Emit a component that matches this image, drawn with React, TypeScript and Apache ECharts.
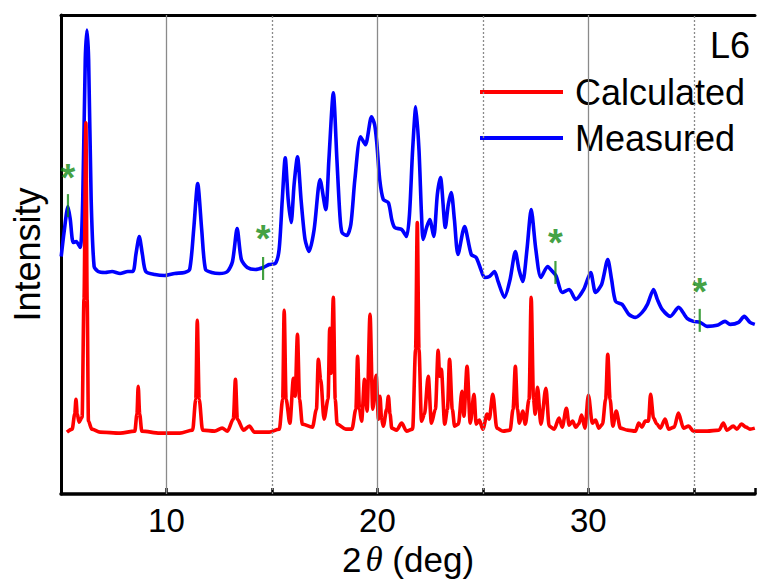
import React, { useEffect, useRef } from "react";
import * as echarts from "echarts";

// Measured pattern (2θ in deg, intensity in arbitrary units)
const measured: [number, number][] = [
  [5.01, 238], [5.15, 263], [5.33, 288], [5.44, 275], [5.58, 252], [5.72, 253], [5.91, 247],
  [6.03, 295], [6.15, 435], [6.23, 465], [6.31, 435], [6.43, 295], [6.57, 228], [6.76, 223],
  [7.09, 222], [7.42, 223], [7.8, 221], [8.17, 223], [8.41, 223], [8.55, 240], [8.71, 258],
  [8.86, 240], [9.02, 223], [9.45, 220], [9.92, 219], [10.39, 221], [10.86, 222], [11.1, 225],
  [11.29, 265], [11.48, 311], [11.67, 265], [11.85, 225], [12.14, 222], [12.51, 221], [12.89, 223],
  [13.13, 233], [13.35, 266], [13.55, 235], [13.83, 227], [14.21, 225], [14.59, 227], [14.87, 230],
  [15.16, 231], [15.34, 245], [15.49, 295], [15.63, 337], [15.77, 295], [15.91, 272], [16.05, 310],
  [16.21, 338], [16.38, 295], [16.57, 255], [16.76, 243], [17.0, 265], [17.28, 315], [17.55, 285],
  [17.7, 335], [17.91, 402], [18.08, 335], [18.22, 280], [18.32, 262], [18.55, 259], [18.74, 270],
  [18.93, 315], [19.2, 358], [19.43, 350], [19.72, 378], [19.87, 370], [19.97, 352], [20.11, 315],
  [20.28, 295], [20.52, 292], [20.68, 275], [20.82, 267], [21.15, 265], [21.38, 258], [21.52, 280],
  [21.67, 345], [21.82, 388], [21.97, 345], [22.09, 280], [22.17, 255], [22.33, 267], [22.48, 275],
  [22.67, 258], [22.84, 300], [22.99, 317], [23.22, 267], [23.36, 290], [23.5, 302], [23.65, 275],
  [23.82, 240], [24.13, 268], [24.45, 240], [24.68, 237], [24.87, 227], [25.08, 217], [25.31, 218],
  [25.55, 223], [25.72, 213], [26.02, 197], [26.29, 215], [26.54, 243], [26.71, 225], [26.89, 213],
  [27.09, 245], [27.29, 285], [27.51, 245], [27.75, 217], [28.07, 228], [28.3, 223], [28.46, 219],
  [28.77, 202], [29.09, 205], [29.4, 195], [29.78, 205], [30.11, 222], [30.34, 202], [30.63, 210],
  [30.92, 235], [31.1, 215], [31.29, 193], [31.6, 190], [31.92, 180], [32.23, 177], [32.55, 182],
  [32.8, 190], [33.09, 205], [33.27, 195], [33.5, 185], [33.88, 178], [34.28, 187], [34.68, 176],
  [34.98, 173], [35.3, 172], [35.63, 168], [36.1, 169], [36.48, 173], [36.72, 170], [37.12, 172],
  [37.39, 178], [37.66, 172], [37.89, 170],
];

// Calculated pattern (2θ in deg, intensity in arbitrary units)
const calculated: [number, number][] = [
  [5.28, 62], [5.53, 65], [5.65, 80], [5.71, 95], [5.77, 80], [5.86, 72], [6.0, 77], [6.09, 195],
  [6.18, 372], [6.24, 195], [6.3, 73], [6.46, 65], [6.85, 62], [7.8, 61], [8.5, 63], [8.6, 80],
  [8.66, 108], [8.73, 80], [8.83, 63], [9.68, 61], [10.63, 61], [11.24, 64], [11.39, 95],
  [11.46, 174], [11.55, 95], [11.71, 64], [12.28, 63], [12.64, 66], [12.89, 63], [13.17, 75],
  [13.27, 115], [13.36, 75], [13.65, 64], [13.93, 68], [14.17, 62], [14.87, 62], [15.35, 65],
  [15.51, 95], [15.58, 184], [15.67, 95], [15.85, 71], [16.02, 116], [16.1, 98], [16.21, 160],
  [16.31, 95], [16.44, 70], [16.92, 67], [17.11, 85], [17.2, 135], [17.31, 115], [17.47, 75],
  [17.66, 95], [17.74, 166], [17.81, 121], [17.91, 197], [18.0, 95], [18.09, 70], [18.5, 65],
  [18.79, 65], [18.98, 85], [19.06, 138], [19.15, 85], [19.25, 73], [19.39, 115], [19.51, 83],
  [19.65, 180], [19.78, 85], [19.94, 119], [20.05, 75], [20.12, 98], [20.2, 75], [20.28, 68],
  [20.44, 85], [20.52, 98], [20.6, 80], [20.68, 66], [20.91, 64], [21.15, 71], [21.38, 63],
  [21.67, 65], [21.81, 145], [21.89, 272], [21.97, 145], [22.09, 73], [22.23, 80], [22.41, 118],
  [22.56, 71], [22.75, 85], [22.88, 144], [22.95, 118], [23.03, 125], [23.19, 70], [23.32, 85],
  [23.42, 135], [23.55, 85], [23.66, 68], [23.84, 70], [24.01, 103], [24.1, 78], [24.25, 128],
  [24.4, 71], [24.58, 100], [24.68, 70], [24.83, 74], [25.0, 65], [25.2, 80], [25.3, 75],
  [25.47, 100], [25.66, 66], [25.96, 63], [26.29, 64], [26.43, 85], [26.54, 128], [26.64, 85],
  [26.73, 71], [26.89, 83], [27.01, 70], [27.19, 95], [27.29, 197], [27.4, 95], [27.48, 80],
  [27.59, 107], [27.75, 70], [27.99, 106], [28.14, 68], [28.38, 65], [28.61, 76], [28.76, 67],
  [28.96, 86], [29.09, 69], [29.25, 73], [29.4, 67], [29.54, 70], [29.68, 79], [29.84, 66],
  [30.0, 99], [30.19, 71], [30.34, 74], [30.5, 66], [30.67, 70], [30.82, 95], [30.92, 140],
  [31.03, 95], [31.16, 68], [31.32, 83], [31.52, 66], [31.85, 64], [32.23, 63], [32.39, 71],
  [32.54, 67], [32.7, 73], [32.85, 73], [32.95, 100], [33.09, 76], [33.25, 70], [33.41, 66],
  [33.64, 75], [33.8, 65], [34.07, 67], [34.27, 81], [34.51, 66], [34.75, 68], [34.98, 63],
  [35.63, 63], [36.19, 64], [36.4, 71], [36.57, 64], [36.87, 68], [37.04, 65], [37.26, 70],
  [37.47, 67], [37.66, 65], [37.89, 66],
];

// Impurity markers (asterisks with short ticks)
const markerTheta = [5.33, 14.58, 28.44, 35.28];
const starLevel = [327, 266, 262, 212];
const tickLevel = [289, 226, 222, 174];

// Axis settings
const xMin = 5;
const xMax = 37.9;
const xStep = 5;
const majorLines = [10, 20, 30];
const minorLines = [15, 25, 35];
const yMax = 480;

const FONT = "'Liberation Sans', Arial, Helvetica, sans-serif";

export default function App() {
  const ref = useRef<HTMLDivElement>(null);

  useEffect(() => {
    if (!ref.current) return;
    const chart = echarts.init(ref.current, undefined, { renderer: "svg" });

    const gridLines = [
      ...majorLines.map((v) => ({
        xAxis: v,
        lineStyle: { color: "#8a8a8a", width: 1.3, type: "solid" as const },
      })),
      ...minorLines.map((v) => ({
        xAxis: v,
        lineStyle: { color: "#8a8a8a", width: 1.3, type: [2, 2] as any },
      })),
    ];

    chart.setOption({
      animation: false,
      backgroundColor: "#ffffff",
      textStyle: { fontFamily: FONT },
      grid: { left: 61, right: 0, top: 15, bottom: 87, containLabel: false },
      xAxis: [
        {
          type: "value",
          min: xMin,
          max: xMax,
          interval: xStep,
          position: "bottom",
          name: "{n|2}{t|θ}{n| (deg)}",
          nameLocation: "middle",
          nameGap: 48,
          nameTextStyle: {
            rich: {
              n: { fontSize: 35, fontFamily: FONT, color: "#000" },
              t: {
                fontSize: 35,
                fontFamily: "'Liberation Serif', 'DejaVu Serif', serif",
                fontStyle: "italic",
                color: "#000",
                padding: [0, 0, 0, 4],
              },
            },
          },
          axisLine: { show: true, lineStyle: { color: "#000", width: 3.5 } },
          axisTick: { show: true, inside: true, length: 6, lineStyle: { color: "#000", width: 2.5 } },
          axisLabel: {
            show: true,
            fontSize: 33,
            color: "#000",
            fontFamily: FONT,
            margin: 10,
            formatter: (v: number) => (Math.abs(v % 10) < 1e-9 ? String(v) : ""),
          },
          splitLine: { show: false },
        },
        {
          type: "value",
          min: xMin,
          max: xMax,
          interval: xStep,
          position: "top",
          axisLine: { show: true, lineStyle: { color: "#000", width: 3 } },
          axisTick: { show: false },
          axisLabel: { show: false },
          splitLine: { show: false },
        },
      ],
      yAxis: {
        type: "value",
        min: 0,
        max: yMax,
        name: "Intensity",
        nameLocation: "middle",
        nameGap: 16,
        nameTextStyle: { fontSize: 36, color: "#000", fontFamily: FONT },
        axisLine: { show: true, lineStyle: { color: "#000", width: 3 } },
        axisTick: { show: false },
        axisLabel: { show: false },
        splitLine: { show: false },
      },
      legend: {
        data: ["Calculated", "Measured"],
        orient: "vertical",
        left: 475,
        top: 66,
        itemWidth: 83,
        itemHeight: 4,
        itemGap: 4,
        icon: "rect",
        textStyle: {
          fontSize: 36,
          color: "#000",
          fontFamily: FONT,
          lineHeight: 42,
          backgroundColor: "#ffffff",
          padding: [0, 2, 0, 7],
        },
        selectedMode: false,
      },
      graphic: [
        {
          type: "text",
          right: 8,
          top: 27,
          style: { text: "L6", fontSize: 36, fontFamily: FONT, fill: "#000" },
        },
      ],
      series: [
        {
          name: "gridlines",
          type: "line",
          data: [],
          z: 1,
          silent: true,
          markLine: {
            silent: true,
            symbol: "none",
            label: { show: false },
            data: gridLines,
          },
        },
        {
          name: "Measured",
          type: "line",
          data: measured,
          showSymbol: false,
          symbol: "none",
          smooth: 0.25,
          z: 3,
          lineStyle: { color: "#0000ff", width: 3.6 },
          itemStyle: { color: "#0000ff" },
        },
        {
          name: "Calculated",
          type: "line",
          data: calculated,
          showSymbol: false,
          symbol: "none",
          smooth: 0.3,
          smoothMonotone: "x",
          z: 4,
          lineStyle: { color: "#ff0000", width: 3.6 },
          itemStyle: { color: "#ff0000" },
        },
        {
          name: "ticks",
          type: "scatter",
          data: markerTheta.map((t, i) => [t, tickLevel[i]]),
          symbol: "rect",
          symbolSize: [2.2, 23],
          z: 5,
          itemStyle: { color: "#118811" },
          silent: true,
        },
        {
          name: "stars",
          type: "scatter",
          data: markerTheta.map((t, i) => [t, starLevel[i]]),
          symbolSize: 0,
          z: 5,
          silent: true,
          label: {
            show: true,
            position: "inside",
            formatter: "*",
            fontSize: 38,
            fontWeight: "bold",
            fontFamily: FONT,
            color: "#118811",
            offset: [0, 10],
          },
        },
      ],
    });

    return () => chart.dispose();
  }, []);

  return (
    <div
      ref={ref}
      style={{ position: "fixed", left: 0, top: 0, width: 758, height: 582 }}
    />
  );
}
